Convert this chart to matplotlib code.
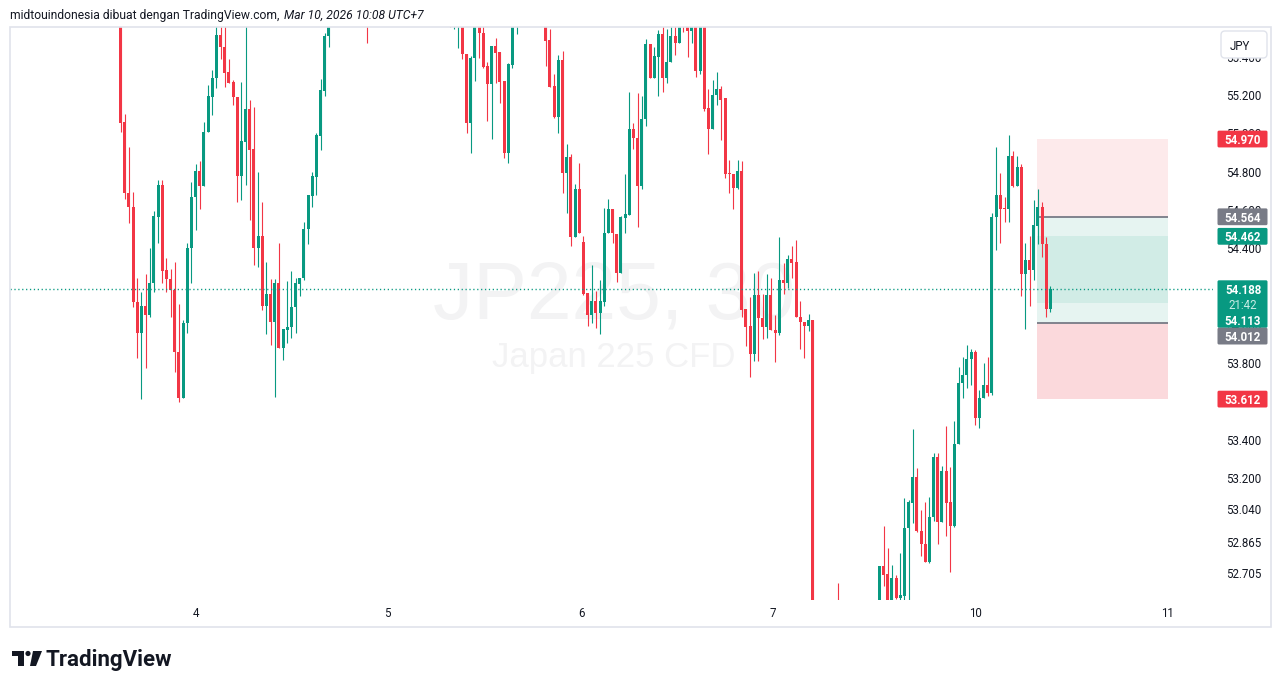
import numpy as np
import matplotlib.pyplot as plt
from matplotlib.patches import Rectangle, FancyBboxPatch, Circle, Polygon
from matplotlib.transforms import IdentityTransform

plt.rcParams['font.family'] = ['Roboto', 'DejaVu Sans']

GREEN = '#089981'
RED = '#f23645'
GRAY = '#787b86'
TXT = '#131722'
BORDER = '#e0e3eb'

# JP225 CFD, 30 minute bars, index 0 = first bar on screen
opens = [
    55.700, 55.061, 54.690, 54.614, 54.121, 53.956, 54.098, 54.050, 54.217, 54.565,
    54.730, 54.286, 54.238, 54.182, 53.856, 53.616, 54.008, 54.399, 54.666, 54.803,
    54.726, 55.005, 55.191, 55.287, 55.513, 55.452, 55.322, 55.269, 55.191, 54.779,
    54.956, 55.127, 54.916, 54.399, 54.464, 54.100, 54.161, 54.016, 54.217, 53.877,
    53.973, 53.990, 54.091, 54.213, 54.243, 54.499, 54.674, 54.773, 54.987, 55.223,
    55.508, 55.62, 55.71, 55.78, 55.75, 55.81, 55.85, 55.74, 55.68, 55.64,
    55.62, 55.72, 55.79, 55.76, 55.80, 55.88, 55.86, 55.83, 55.87, 55.84,
    55.79, 55.81, 55.77, 55.73, 55.75, 55.71, 55.67, 55.69, 55.65, 55.63,
    55.60, 55.58, 55.62, 55.413, 55.055, 55.392, 55.58, 55.522, 55.351, 55.256,
    55.456, 55.423, 55.273, 54.899, 55.357, 55.58, 55.63, 55.69, 55.73, 55.70,
    55.72, 55.68, 55.62, 55.487, 55.247, 55.087, 55.383, 54.791, 54.875, 54.460,
    54.709, 54.431, 54.165, 54.051, 54.124, 54.063, 54.121, 54.478, 54.605, 54.474,
    54.272, 54.559, 54.574, 55.022, 54.975, 54.727, 55.072, 55.466, 55.290, 55.400,
    55.519, 55.290, 55.371, 55.507, 55.473, 55.66, 55.62, 55.534, 55.64, 55.324,
    55.62, 55.131, 55.021, 55.198, 55.233, 55.182, 54.792, 54.787, 54.714, 54.802,
    54.081, 53.993, 53.847, 54.158, 54.034, 53.990, 54.158, 53.975, 53.959, 54.233,
    54.217, 54.345, 54.329, 54.040, 54.014, 53.993, 54.024, 52.35, 52.30, 52.38,
    52.45, 52.40, 52.53, 52.44, 52.37, 52.41, 52.46, 52.43, 52.48, 52.45,
    52.49, 52.51, 52.53, 52.741, 52.699, 52.55, 52.676, 52.572, 52.584, 52.937,
    53.071, 53.204, 52.925, 52.854, 52.763, 52.995, 53.308, 52.972, 53.237, 53.075,
    52.951, 53.376, 53.694, 53.738, 53.820, 53.856, 53.515, 53.616, 53.686, 53.645,
    54.564, 54.678, 54.612, 54.605, 54.881, 54.725, 54.826, 54.265, 54.338, 54.286,
    54.516, 54.614, 54.420, 54.083,
]
highs = [
    55.760, 55.101, 54.930, 54.695, 54.243, 54.173, 54.265, 54.399, 54.596, 54.756,
    54.756, 54.347, 54.290, 54.326, 54.109, 54.025, 54.429, 54.747, 54.840, 54.855,
    55.061, 55.252, 55.331, 55.600, 55.600, 55.620, 55.386, 55.278, 55.191, 55.269,
    55.600, 55.174, 55.139, 54.800, 54.640, 54.330, 54.238, 54.238, 54.429, 53.977,
    54.230, 54.283, 54.243, 54.246, 54.538, 54.678, 54.800, 55.003, 55.282, 55.525,
    55.650, 55.74, 55.80, 55.86, 55.83, 55.90, 55.88, 55.79, 55.73, 55.70,
    55.75, 55.81, 55.84, 55.82, 55.92, 55.95, 55.91, 55.89, 55.93, 55.88,
    55.84, 55.86, 55.80, 55.78, 55.79, 55.74, 55.72, 55.73, 55.70, 55.67,
    55.66, 55.68, 55.66, 55.413, 55.404, 55.62, 55.62, 55.58, 55.374, 55.456,
    55.496, 55.423, 55.273, 55.369, 55.62, 55.66, 55.72, 55.76, 55.79, 55.75,
    55.77, 55.72, 55.66, 55.543, 55.310, 55.409, 55.430, 54.944, 54.892, 54.735,
    54.843, 54.464, 54.165, 54.312, 54.178, 54.234, 54.608, 54.655, 54.605, 54.474,
    54.568, 54.787, 55.217, 55.054, 55.208, 55.194, 55.493, 55.466, 55.452, 55.539,
    55.56, 55.544, 55.58, 55.58, 55.65, 55.70, 55.68, 55.68, 55.68, 55.66,
    55.66, 55.233, 55.276, 55.320, 55.249, 55.182, 54.863, 54.787, 54.863, 54.857,
    54.081, 54.146, 54.269, 54.280, 54.162, 54.264, 54.243, 54.050, 54.461, 54.325,
    54.365, 54.412, 54.443, 54.125, 54.014, 54.054, 54.024, 52.48, 52.42, 52.50,
    52.53, 52.51, 52.653, 52.50, 52.45, 52.49, 52.53, 52.50, 52.54, 52.52,
    52.55, 52.555, 52.741, 52.949, 52.833, 52.746, 52.694, 52.807, 53.094, 53.085,
    53.454, 53.251, 53.033, 53.076, 53.099, 53.329, 53.329, 53.263, 53.472, 53.256,
    53.498, 53.781, 53.833, 53.894, 53.874, 53.868, 53.660, 53.802, 53.833, 54.582,
    54.930, 54.794, 54.666, 54.991, 54.908, 54.881, 54.838, 54.429, 54.464, 54.652,
    54.709, 54.643, 54.460, 54.204,
]
lows = [
    55.008, 54.657, 54.530, 54.095, 53.825, 53.611, 53.776, 54.042, 54.170, 54.429,
    54.220, 54.173, 54.039, 53.752, 53.595, 53.616, 53.956, 54.220, 54.495, 54.603,
    54.726, 55.005, 55.096, 55.235, 55.386, 55.240, 55.264, 55.148, 54.640, 54.652,
    54.730, 54.547, 54.312, 54.303, 54.077, 53.950, 53.894, 53.625, 53.877, 53.816,
    53.903, 53.933, 53.956, 54.150, 54.234, 54.422, 54.617, 54.678, 54.913, 55.195,
    55.452, 55.60, 55.66, 55.72, 55.69, 55.77, 55.70, 55.63, 55.58, 55.47,
    55.60, 55.68, 55.73, 55.71, 55.77, 55.83, 55.79, 55.78, 55.82, 55.76,
    55.73, 55.75, 55.70, 55.68, 55.69, 55.64, 55.62, 55.63, 55.60, 55.553,
    55.545, 55.447, 55.386, 55.000, 54.899, 55.275, 55.392, 55.34, 55.066, 54.969,
    55.264, 55.160, 54.869, 54.843, 55.343, 55.519, 55.59, 55.64, 55.68, 55.65,
    55.66, 55.61, 55.351, 55.243, 55.078, 55.003, 54.690, 54.582, 54.413, 54.460,
    54.478, 54.156, 53.995, 54.011, 53.982, 53.950, 54.098, 54.478, 54.429, 54.225,
    54.272, 54.481, 54.574, 54.918, 54.512, 54.707, 55.040, 55.290, 55.290, 55.196,
    55.213, 55.263, 55.371, 55.411, 55.473, 55.527, 55.400, 55.473, 55.294, 55.310,
    55.116, 54.893, 55.021, 55.148, 54.965, 54.768, 54.686, 54.605, 54.707, 54.040,
    53.888, 53.729, 53.810, 53.810, 53.928, 53.933, 53.975, 53.806, 53.949, 54.162,
    54.192, 54.243, 54.040, 53.874, 53.827, 53.969, 52.30, 52.22, 52.18, 52.31,
    52.36, 52.33, 52.40, 52.34, 52.28, 52.35, 52.39, 52.36, 52.41, 52.38,
    52.43, 52.45, 52.50, 52.636, 52.52, 52.53, 52.569, 52.563, 52.56, 52.563,
    52.963, 52.920, 52.794, 52.763, 52.754, 52.977, 52.854, 52.972, 52.899, 52.708,
    52.946, 53.376, 53.619, 53.668, 53.686, 53.477, 53.461, 53.616, 53.628, 53.634,
    54.391, 54.429, 54.538, 54.538, 54.721, 54.725, 54.152, 53.978, 54.100, 54.234,
    54.420, 54.352, 54.042, 54.067,
]
closes = [
    55.055, 54.687, 54.614, 54.121, 53.956, 54.098, 54.050, 54.217, 54.568, 54.730,
    54.283, 54.238, 54.182, 53.856, 53.616, 54.011, 54.399, 54.669, 54.803, 54.726,
    55.008, 55.195, 55.287, 55.513, 55.452, 55.316, 55.264, 55.191, 54.779, 54.960,
    55.127, 54.913, 54.399, 54.464, 54.100, 54.161, 54.016, 54.217, 53.877, 53.977,
    53.990, 54.095, 54.217, 54.246, 54.500, 54.678, 54.777, 54.991, 55.226, 55.508,
    55.600, 55.71, 55.78, 55.75, 55.81, 55.85, 55.74, 55.68, 55.64, 55.62,
    55.72, 55.79, 55.76, 55.80, 55.88, 55.86, 55.83, 55.87, 55.84, 55.79,
    55.81, 55.77, 55.73, 55.75, 55.71, 55.67, 55.69, 55.65, 55.63, 55.60,
    55.63, 55.64, 55.413, 55.055, 55.395, 55.58, 55.522, 55.348, 55.256, 55.456,
    55.421, 55.269, 54.899, 55.362, 55.58, 55.63, 55.69, 55.73, 55.70, 55.72,
    55.68, 55.64, 55.484, 55.243, 55.087, 55.383, 54.791, 54.875, 54.460, 54.709,
    54.478, 54.161, 54.051, 54.124, 54.060, 54.124, 54.478, 54.605, 54.478, 54.272,
    54.565, 54.579, 55.022, 54.975, 54.727, 55.076, 55.466, 55.290, 55.406, 55.519,
    55.290, 55.371, 55.507, 55.473, 55.60, 55.60, 55.534, 55.64, 55.324, 55.62,
    55.127, 55.021, 55.202, 55.233, 55.174, 54.787, 54.787, 54.714, 54.802, 54.077,
    53.990, 53.847, 54.158, 54.034, 53.990, 54.158, 53.975, 53.959, 54.233, 54.217,
    54.345, 54.325, 54.040, 54.014, 53.993, 54.024, 52.35, 52.30, 52.38, 52.45,
    52.40, 52.47, 52.44, 52.37, 52.41, 52.46, 52.43, 52.48, 52.45, 52.49,
    52.51, 52.53, 52.741, 52.694, 52.55, 52.676, 52.572, 52.589, 52.937, 53.076,
    53.204, 52.925, 52.854, 52.763, 52.995, 53.308, 52.972, 53.237, 53.071, 52.951,
    53.376, 53.694, 53.738, 53.820, 53.856, 53.515, 53.616, 53.686, 53.645, 54.564,
    54.678, 54.605, 54.605, 54.881, 54.725, 54.826, 54.265, 54.338, 54.286, 54.521,
    54.614, 54.420, 54.083, 54.188,
]

day_labels = ['4', '5', '6', '7', '10', '11']
day_pos = [18, 64, 110.5, 156.5, 205, 251]

price_ticks = [55.4, 55.2, 55.0, 54.8, 54.6, 54.4, 54.2, 54.0, 53.8, 53.6,
               53.4, 53.2, 53.04, 52.865, 52.705]

last_price = 54.188
countdown = '21:42'
# position tool levels
stop_hi, entry_hi, avg_hi = 54.970, 54.564, 54.462
avg_lo, entry_lo, stop_lo = 54.113, 54.012, 53.612
tool_x0, tool_x1 = 219.9, 251.3

W, H = 1281, 688
fig = plt.figure(figsize=(W / 100, H / 100), dpi=100)
ax = fig.add_axes([10 / W, 88 / H, 1203 / W, 573 / H])
ax.set_xlim(-26.5, 262.0)
ax.set_ylim(52.563, 55.555)
for s in ax.spines.values():
    s.set_visible(False)

# watermark
ax.text(0.502, 0.492, 'JP225, 30', transform=ax.transAxes, ha='center', va='baseline',
        fontsize=58, color='#f3f3f4', family='Liberation Sans', zorder=0)
ax.text(0.502, 0.4066, 'Japan 225 CFD', transform=ax.transAxes, ha='center', va='baseline',
        fontsize=25, color='#f3f3f4', family='Liberation Sans', zorder=0)

# position tool
ax.add_patch(Rectangle((tool_x0, entry_hi), tool_x1 - tool_x0, stop_hi - entry_hi,
                       fc='#fdeaeb', ec='none', zorder=1))
ax.add_patch(Rectangle((tool_x0, entry_lo), tool_x1 - tool_x0, entry_hi - entry_lo,
                       fc='#e6f4f1', ec='none', zorder=1))
ax.add_patch(Rectangle((tool_x0, avg_lo), tool_x1 - tool_x0, avg_hi - avg_lo,
                       fc='#d1ece6', ec='none', zorder=1))
ax.add_patch(Rectangle((tool_x0, stop_lo), tool_x1 - tool_x0, entry_lo - stop_lo,
                       fc='#fbd9dc', ec='none', zorder=1))
ax.hlines([entry_hi, entry_lo], tool_x0, tool_x1, colors=GRAY, lw=1.3, zorder=2)

# candles
o, h, l, c = map(np.array, (opens, highs, lows, closes))
x = np.arange(len(o))
cols = np.where(c >= o, GREEN, RED)
ax.vlines(x, l, h, colors=cols, lw=0.8, zorder=3)
ax.bar(x, np.maximum(np.abs(c - o), 0.005), bottom=np.minimum(o, c), width=0.72,
       color=cols, lw=0, zorder=4)

ax.axhline(last_price, color=GREEN, lw=1.0, ls=(0, (0.9, 1.9)), zorder=5)

ax.set_xticks(day_pos)
ax.set_xticklabels(day_labels)
ax.tick_params(axis='x', length=0, pad=5, labelsize=8.3, labelcolor=TXT)
ax.yaxis.tick_right()
ax.set_yticks(price_ticks)
ax.set_yticklabels([f'{v:.3f}' for v in price_ticks])
ax.tick_params(axis='y', length=0, pad=9.5, labelsize=8.3, labelcolor=TXT)

# outer frame
fig.add_artist(Rectangle((10, H - 627), 1261, 600, transform=IdentityTransform(),
                         fc='none', ec=BORDER, lw=1.2, zorder=1))


def ydisp(v):
    return ax.transData.transform((0, v))[1]


def tag(yc, text, color, tcolor='white', weight='bold'):
    fig.add_artist(FancyBboxPatch((1217.5, yc - 8.4), 50, 16.8,
                                  boxstyle='round,pad=0,rounding_size=1.5',
                                  transform=IdentityTransform(),
                                  fc=color, ec='none', zorder=5))
    fig.text(1243, yc, text, transform=IdentityTransform(), ha='center',
             va='center_baseline', color=tcolor, fontsize=8.3, weight=weight, zorder=6)


tag(ydisp(stop_hi), f'{stop_hi:.3f}', RED)
tag(ydisp(entry_hi), f'{entry_hi:.3f}', GRAY)
tag(ydisp(avg_hi), f'{avg_hi:.3f}', GREEN)
yl = ydisp(last_price)
fig.add_artist(FancyBboxPatch((1217.5, yl - 39), 50, 47.5,
                              boxstyle='round,pad=0,rounding_size=1.5',
                              transform=IdentityTransform(), fc=GREEN, ec='none', zorder=5))
fig.text(1243, yl, f'{last_price:.3f}', transform=IdentityTransform(), ha='center',
         va='center_baseline', color='white', fontsize=8.3, weight='bold', zorder=6)
fig.text(1243, yl - 15.5, countdown, transform=IdentityTransform(), ha='center',
         va='center_baseline', color='#c9ece5', fontsize=8.3, zorder=6)
fig.text(1243, yl - 31, f'{avg_lo:.3f}', transform=IdentityTransform(), ha='center',
         va='center_baseline', color='white', fontsize=8.3, weight='bold', zorder=6)
tag(yl - 47.3, f'{entry_lo:.3f}', GRAY)
tag(ydisp(stop_lo), f'{stop_lo:.3f}', RED)

# currency button
fig.add_artist(FancyBboxPatch((1221, H - 58), 46, 27, boxstyle='round,pad=0,rounding_size=4',
                              transform=IdentityTransform(), fc='white', ec=BORDER, lw=1, zorder=5))
fig.text(1240, H - 44.5, 'JPY', transform=IdentityTransform(), ha='center',
         va='center_baseline', color=TXT, fontsize=8.3, zorder=6)

# header
t1 = fig.text(10 / W, 1 - 19 / H, 'midtouindonesia dibuat dengan TradingView.com,',
              fontsize=8.7, color=TXT, va='baseline')
fig.add_artist(plt.Annotation('Mar 10, 2026 10:08 UTC+7', xy=(1, 0), xycoords=t1,
                              xytext=(3, 0), textcoords='offset points', va='bottom',
                              fontsize=8.7, color=TXT, style='italic'))

# TradingView logo
ident = IdentityTransform()
fig.add_artist(Polygon([(12, H - 651), (24, H - 651), (24, H - 666), (18, H - 666),
                        (18, H - 656), (12, H - 656)], closed=True, transform=ident,
                       fc=TXT, ec='none'))
fig.add_artist(Circle((28, H - 653.5), 2.6, transform=ident, fc=TXT, ec='none'))
fig.add_artist(Polygon([(33, H - 651), (42, H - 651), (36, H - 666), (30, H - 666)],
                       closed=True, transform=ident, fc=TXT, ec='none'))
fig.text(46, H - 666, 'TradingView', transform=ident, fontsize=16, weight='bold',
         color=TXT, va='baseline')

fig.savefig('out.png', dpi=100)
